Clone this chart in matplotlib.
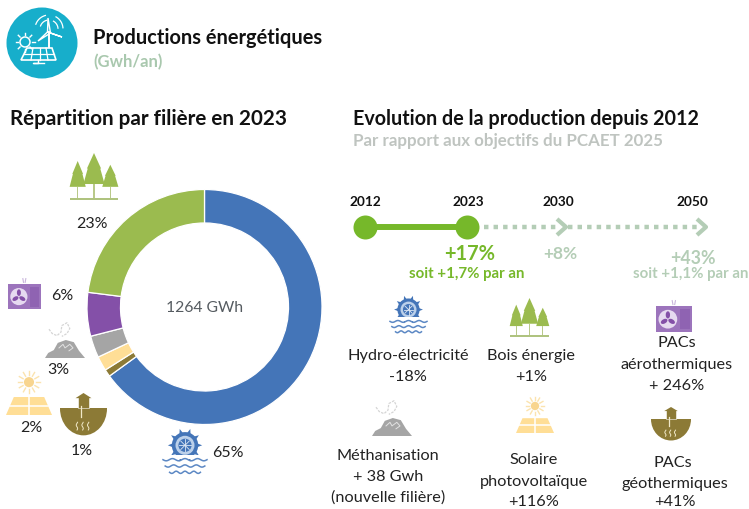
import numpy as np
import matplotlib
matplotlib.use("Agg")
import matplotlib.pyplot as plt
from matplotlib.patches import Circle, Polygon, Rectangle, Ellipse

plt.rcParams['font.family'] = ['Lato', 'DejaVu Sans']

W, H = 749, 509
categories = ["Hydro-électricité", "PACs géothermiques", "Solaire photovoltaïque",
              "Méthanisation", "PACs aérothermiques", "Bois énergie"]
shares = [65, 1, 2, 3, 6, 23]
colors = ["#4475B8", "#8C7A36", "#FFDE96", "#A5A5A5", "#8450A8", "#9BBB4F"]
total_label = "1264 GWh"
years = ["2012", "2023", "2030", "2050"]

C_BLUE, C_BROWN, C_YEL, C_GRAY, C_PUR, C_GRN = colors
TL_GREEN = "#76B82A"
TL_PALE = "#B4CDB6"

fig = plt.figure(figsize=(W / 100, H / 100), dpi=100, facecolor="white")

# donut
cx, cy, R = 204.5, 307, 117.5
axp = fig.add_axes([(cx - R) / W, 1 - (cy + R) / H, 2 * R / W, 2 * R / H])
axp.pie(shares, colors=colors, startangle=90, counterclock=False, radius=1,
        wedgeprops=dict(width=0.285, edgecolor="white", linewidth=0.9))
axp.set_xlim(-1, 1); axp.set_ylim(-1, 1); axp.axis("off")

# overlay in pixel coordinates
ax = fig.add_axes([0, 0, 1, 1], zorder=5)
ax.set_xlim(0, W); ax.set_ylim(H, 0); ax.axis("off"); ax.patch.set_alpha(0)


def txt(x, y, s, size=11.5, color="#222222", weight="normal", ha="center", **kw):
    return ax.text(x, y, s, fontsize=size, color=color, fontweight=weight,
                   ha=ha, va="center", clip_on=kw.pop("clip_on", False), **kw)


def tree_icon(x0, y0, w, h, c=C_GRN):
    def P(pts, col=c, z=6):
        ax.add_patch(Polygon([(x0 + a * w, y0 + b * h) for a, b in pts], fc=col, ec="none", zorder=z))
    for xc, top, bot, hw in [(0.16, 0.17, 0.72, 0.16), (0.5, 0.0, 0.66, 0.21), (0.84, 0.25, 0.72, 0.16)]:
        m = top + (bot - top) * 0.5
        P([(xc, top), (xc + hw * 0.7, m), (xc + hw * 0.62, m), (xc + hw * 1.05, bot),
           (xc - hw * 1.05, bot), (xc - hw * 0.62, m), (xc - hw * 0.7, m)])
        P([(xc - 0.012, bot), (xc + 0.012, bot), (xc + 0.012, 0.95), (xc - 0.012, 0.95)], "#B9C98A")
    P([(0, 0.95), (1, 0.95), (1, 1), (0, 1)], "#AFC37F")


def wheel_icon(x0, y0, w, h, c=C_BLUE):
    xc, yc = x0 + 0.5 * w, y0 + 0.34 * h
    r = 0.3 * w
    for a in np.arange(0, 360, 36):
        t = np.radians(a)
        ax.add_patch(Polygon([(xc + r * 0.75 * np.cos(t - .3), yc + r * 0.75 * np.sin(t - .3)),
                              (xc + r * 1.3 * np.cos(t), yc + r * 1.3 * np.sin(t)),
                              (xc + r * 0.75 * np.cos(t + .3), yc + r * 0.75 * np.sin(t + .3))],
                             fc=c, ec="none", zorder=6))
    ax.add_patch(Circle((xc, yc), r, fc=c, ec="none", zorder=6))
    ax.add_patch(Circle((xc, yc), r * 0.72, fc="#BBD0EA", ec="none", zorder=6.1))
    ax.add_patch(Circle((xc, yc), r * 0.5, fc=c, ec="none", zorder=6.2))
    for a in np.arange(0, 180, 45):
        t = np.radians(a)
        ax.plot([xc - r * .45 * np.cos(t), xc + r * .45 * np.cos(t)],
                [yc - r * .45 * np.sin(t), yc + r * .45 * np.sin(t)], color="#DDE7F4", lw=.6, zorder=6.3)
    ax.add_patch(Rectangle((x0, y0 + 0.55 * h), w, 0.1 * h, fc="white", ec="none", zorder=6.4))
    xs = np.linspace(0, 1, 40)
    for yy, sp in [(0.66, 1.0), (0.80, 0.9), (0.94, 0.7)]:
        xx = 0.5 + (xs - 0.5) * sp
        ax.plot(x0 + xx * w, y0 + (yy + 0.025 * np.sin(xs * 22)) * h, color="#5C88C4", lw=1.1, zorder=6.5)


def pac_icon(x0, y0, w, h, c=C_PUR):
    top = y0 + 0.2 * h
    ax.add_patch(Rectangle((x0, top), w, 0.8 * h, fc="#9C74BC", ec="none", zorder=6))
    ax.add_patch(Circle((x0 + 0.33 * w, top + 0.4 * h), 0.26 * w, fc="#E6DAF0", ec="none", zorder=6.1))
    for a in (-90, 30, 150):
        t = np.radians(a)
        ax.add_patch(Ellipse((x0 + 0.33 * w + 0.12 * w * np.cos(t), top + 0.4 * h + 0.12 * w * np.sin(t)),
                             0.2 * w, 0.12 * w, angle=a, fc=c, ec="none", zorder=6.2))
    ax.add_patch(Rectangle((x0 + 0.68 * w, top + 0.08 * h), 0.26 * w, 0.64 * h, fc="#8F63B2", ec="none", zorder=6.1))
    ax.plot([x0 + .45 * w, x0 + .47 * w], [y0 + .02 * h, y0 + .14 * h], color="#C9B5DC", lw=.8, zorder=6)
    ax.plot([x0 + .54 * w, x0 + .52 * w], [y0 + .02 * h, y0 + .14 * h], color="#C9B5DC", lw=.8, zorder=6)


def meth_icon(x0, y0, w, h, c=C_GRAY):
    pts = [(0, 1), (.08, .86), (.22, .78), (.32, .58), (.52, .5), (.72, .56), (.85, .8), (1, 1)]
    ax.add_patch(Polygon([(x0 + a * w, y0 + b * h) for a, b in pts], fc=c, ec="none", zorder=6))
    ax.plot(x0 + np.array([.35, .45, .5, .62, .7, .6]) * w, y0 + np.array([.72, .62, .72, .62, .72, .8]) * h,
            color="#E2E2E2", lw=.7, zorder=6.1)
    ax.plot(x0 + np.array([.1, .18, .3, .4, .42, .55, .62, .55, .42]) * w,
            y0 + np.array([.2, .32, .38, .28, .1, .02, .18, .32, .4]) * h,
            color="#D5D5D5", lw=.9, ls=(0, (2, 1)), zorder=6)


def sun_icon(x0, y0, w, h, c=C_YEL):
    xc, yc = x0 + .5 * w, y0 + .27 * h
    r = .11 * w
    ax.add_patch(Circle((xc, yc), r, fc="#F8D58F", ec="none", zorder=6))
    for a in range(0, 360, 30):
        t = np.radians(a)
        ax.plot([xc + 1.35 * r * np.cos(t), xc + 2.2 * r * np.cos(t)],
                [yc + 1.35 * r * np.sin(t), yc + 2.2 * r * np.sin(t)], color="#FBE3AE", lw=1, zorder=6)
    ax.add_patch(Polygon([(x0 + .17 * w, y0 + .6 * h), (x0 + .83 * w, y0 + .6 * h),
                          (x0 + w, y0 + h), (x0, y0 + h)], fc=c, ec="none", zorder=6))
    ax.plot([xc, xc], [y0 + .6 * h, y0 + h], color="white", lw=1.1, zorder=6.1)
    ax.plot([x0 + .08 * w, x0 + .92 * w], [y0 + .79 * h, y0 + .79 * h], color="white", lw=1.1, zorder=6.1)


def geo_icon(x0, y0, w, h, c=C_BROWN):
    xc, yc = x0 + .5 * w, y0 + .36 * h
    ax.add_patch(Ellipse((xc, yc), w, 1.25 * h, fc=c, ec="none", zorder=6))
    ax.add_patch(Rectangle((x0 - 1, y0 - .3 * h), w + 2, .66 * h, fc="white", ec="none", zorder=6.05))
    ax.add_patch(Rectangle((xc - .12 * w, y0 + .1 * h), .24 * w, .26 * h, fc=c, ec="white", lw=.4, zorder=6.1))
    ax.add_patch(Polygon([(xc - .17 * w, y0 + .12 * h), (xc, y0), (xc + .17 * w, y0 + .12 * h)], fc=c, ec="none", zorder=6.1))
    ax.plot([xc - .05 * w, xc - .05 * w], [y0 + .3 * h, y0 + .55 * h], color="#F1E9C8", lw=.9, zorder=6.2)
    for dx in (-.14, -.02, .1):
        ys = np.linspace(.68, .86, 12)
        ax.plot(xc + dx * w + .015 * w * np.sin(ys * 40), y0 + ys * h, color="#F1E9C8", lw=.7, zorder=6.2)


def header_icon():
    ax.add_patch(Circle((42, 43), 35.5, fc="#17AECB", ec="none", zorder=6))
    wc = "white"
    ax.add_patch(Polygon([(27, 48), (52, 48), (56, 60), (21, 60)], fc="none", ec=wc, lw=1.2, zorder=7))
    for x1, x2 in [(33, 31), (40, 40), (46, 48)]:
        ax.plot([x1, x2], [48, 60], color=wc, lw=.9, zorder=7)
    ax.plot([24, 54], [54, 54], color=wc, lw=.9, zorder=7)
    ax.plot([38, 38, 33, 44], [60, 63, 63, 63], color=wc, lw=1, zorder=7)
    ax.add_patch(Circle((25, 42), 5, fc="none", ec=wc, lw=1.1, zorder=7))
    for a in range(0, 360, 45):
        t = np.radians(a)
        ax.plot([25 + 7 * np.cos(t), 25 + 9.5 * np.cos(t)], [42 + 7 * np.sin(t), 42 + 9.5 * np.sin(t)],
                color=wc, lw=1, zorder=7)
    hub = (49, 32)
    ax.plot([hub[0], hub[0]], [hub[1], 47], color=wc, lw=1.4, zorder=7)
    for tip in [(48, 18), (62, 37), (38, 41)]:
        ax.add_patch(Polygon([(hub[0] - 1.5, hub[1]), tip, (hub[0] + 1.5, hub[1] + 1)], fc="none", ec=wc, lw=1, zorder=7))
    for r_ in (9, 14):
        for a0 in (-160, -60):
            th = np.radians(np.linspace(a0, a0 + 55, 15))
            ax.plot(hub[0] + r_ * np.cos(th), hub[1] - 3 + r_ * np.sin(th), color=wc, lw=.9, zorder=7)


header_icon()
tree_icon(70, 153, 48, 47); wheel_icon(163, 430, 44, 45); pac_icon(8, 278, 33, 31)
meth_icon(45, 322, 40, 36); sun_icon(6, 370, 46, 45); geo_icon(60, 393, 47, 43)
wheel_icon(390, 297, 37, 37); tree_icon(510, 298, 39, 39); pac_icon(656, 300, 36, 32)
meth_icon(372, 400, 40, 36); sun_icon(516, 396, 38, 37); geo_icon(651, 407, 40, 34)

# titles
txt(93, 38, "Productions énergétiques", 14.45, "#111111", "bold", "left")
txt(93, 62, "(Gwh/an)", 12, "#A9C8AE", "bold", "left")
txt(10, 119, "Répartition par filière en 2023", 14.9, "#111111", "bold", "left")
txt(353, 119, "Evolution de la production depuis 2012", 14.2, "#111111", "bold", "left")
txt(353, 141, "Par rapport aux objectifs du PCAET 2025", 12.2, "#BFC4C0", "bold", "left")

# donut labels
for (x, y), s in zip([(228, 453), (82, 451), (31, 428), (58, 370), (62, 296), (92, 224)],
                     [f"{v}%" for v in shares]):
    txt(x, y, s, 11.5, "#222222")
txt(205, 308, total_label, 11.3, "#555B60")

# timeline
yl = 227
x_year = [365, 467, 560, 700]
ylabel_x = [365, 468, 558, 692]
for x, s in zip(ylabel_x, years):
    txt(x, 202, s, 9.8, "#111111", "bold")
ax.plot(x_year[:2], [yl, yl], color=TL_GREEN, lw=4.3, zorder=3, solid_capstyle="butt")
ax.scatter(x_year[:2], [yl, yl], s=(24 * 0.72) ** 2, color=TL_GREEN, zorder=4, linewidths=0)
for xa, xb in [(484, 560), (568, 698)]:
    ax.plot([xa, xb], [yl, yl], color=TL_PALE, lw=3.2, ls=(0, (1, 1.15)), zorder=3)
for x in x_year[2:]:
    x2 = x + 6
    ax.plot([x2 - 9, x2, x2 - 9], [yl - 8, yl, yl + 8], color=TL_PALE, lw=3, zorder=3, solid_capstyle="butt")
txt(470, 254, "+17%", 14.5, TL_GREEN, "bold")
txt(467, 274, "soit +1,7% par an", 10.8, TL_GREEN, "bold")
txt(560, 254, "+8%", 12.5, TL_PALE, "bold")
txt(693, 259, "+43%", 12.8, TL_PALE, "bold")
txt(633, 274, "soit +1,1% par an", 10.8, TL_PALE, "bold", "left")

# right labels
lab = [
    (408, 356, "Hydro-électricité"), (408, 377, "-18%"),
    (531, 356, "Bois énergie"), (531, 377, "+1%"),
    (677, 343, "PACs"), (677, 365, "aérothermiques"), (677, 386, "+ 246%"),
    (388, 456, "Méthanisation"), (388, 477, "+ 38 Gwh"), (388, 498, "(nouvelle filière)"),
    (534, 460, "Solaire"), (534, 482, "photovoltaïque"), (534, 502, "+116%"),
    (673, 463, "PACs"), (675, 484, "géothermiques"), (675, 502, "+41%"),
]
for x, y, s in lab:
    txt(x, y, s, 11.7, "#222222")

fig.savefig("out.png", dpi=100)
